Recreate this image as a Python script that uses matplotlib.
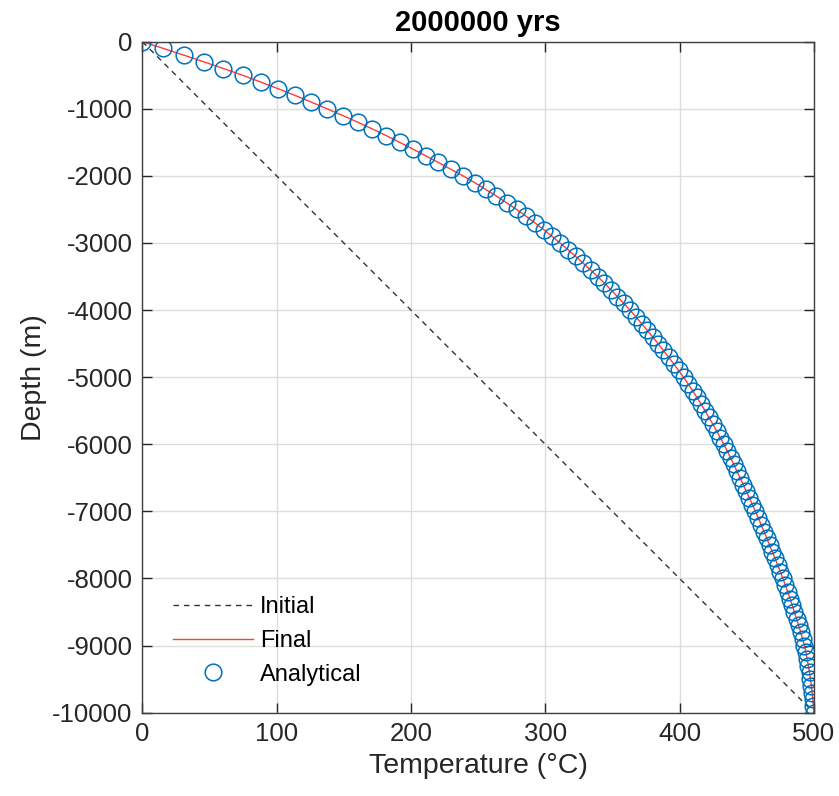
import numpy as np
import matplotlib
matplotlib.use('Agg')
import matplotlib.pyplot as plt

plt.rcParams['font.family'] = ['Liberation Sans', 'DejaVu Sans']
plt.rcParams['axes.unicode_minus'] = False

# depth of the analytical points (m), every 100 m
depth = [0, -100, -200, -300, -400, -500, -600, -700, -800, -900,
         -1000, -1100, -1200, -1300, -1400, -1500, -1600, -1700, -1800, -1900,
         -2000, -2100, -2200, -2300, -2400, -2500, -2600, -2700, -2800, -2900,
         -3000, -3100, -3200, -3300, -3400, -3500, -3600, -3700, -3800, -3900,
         -4000, -4100, -4200, -4300, -4400, -4500, -4600, -4700, -4800, -4900,
         -5000, -5100, -5200, -5300, -5400, -5500, -5600, -5700, -5800, -5900,
         -6000, -6100, -6200, -6300, -6400, -6500, -6600, -6700, -6800, -6900,
         -7000, -7100, -7200, -7300, -7400, -7500, -7600, -7700, -7800, -7900,
         -8000, -8100, -8200, -8300, -8400, -8500, -8600, -8700, -8800, -8900,
         -9000, -9100, -9200, -9300, -9400, -9500, -9600, -9700, -9800, -9900,
         -10000]

# temperature (deg C)
temp = [0.0, 15.6, 30.8, 45.8, 60.4, 74.6, 88.0, 101.0, 113.6, 125.8,
        137.6, 149.2, 160.4, 171.2, 181.6, 191.6, 201.4, 211.0, 220.4, 229.6,
        238.8, 247.4, 255.6, 263.6, 271.2, 278.6, 285.6, 292.3, 298.8, 305.0,
        311.0, 316.9, 322.6, 328.2, 333.7, 339.0, 344.1, 349.0, 353.8, 358.5,
        363.0, 367.4, 371.7, 375.9, 380.0, 384.0, 387.9, 391.8, 395.6, 399.3,
        403.0, 406.4, 409.7, 412.9, 416.0, 419.0, 421.9, 424.8, 427.6, 430.3,
        433.0, 435.5, 438.0, 440.4, 442.7, 445.0, 447.4, 449.7, 452.0, 454.3,
        456.5, 458.7, 460.8, 462.9, 465.0, 467.0, 469.1, 471.1, 473.1, 475.1,
        477.0, 478.8, 480.6, 482.3, 483.9, 485.5, 487.1, 488.7, 490.2, 491.6,
        493.0, 494.1, 495.0, 495.9, 496.8, 497.5, 498.2, 498.7, 499.2, 499.7,
        500.0]

# initial linear profile (end points)
init_depth = [0, -10000]
init_temp = [0, 500]

title = '2000000 yrs'
txt = '#262626'

fig = plt.figure(figsize=(8.39, 7.96), dpi=100)
ax = fig.add_axes([0.1697, 0.1047, 0.8003, 0.8429])

ax.plot(init_temp, init_depth, color='#333333', linestyle=(0, (4, 3.5)), linewidth=1.0, label='Initial')
ax.plot(temp, depth, color='#ff3b3b', linewidth=1.0, label='Final')
ax.plot(temp, depth, linestyle='none', marker='o', markersize=12, markerfacecolor='none',
        markeredgecolor='#0072BD', markeredgewidth=1.1, label='Analytical')

ax.set_xlim(0, 500)
ax.set_ylim(-10000, 0)
ax.set_xticks(np.arange(0, 501, 100))
ax.set_yticks(np.arange(-10000, 1, 1000))
ax.grid(True, color='#dedede', linewidth=1.0)
ax.set_axisbelow(True)
ax.tick_params(direction='in', top=True, right=True, length=7, width=1.0,
               labelsize=18.5, colors=txt, pad=7)
for s in ax.spines.values():
    s.set_color('#404040')
    s.set_linewidth(1.0)

ax.set_xlabel('Temperature (°C)', fontsize=20.5, color=txt, labelpad=5)
ax.set_ylabel('Depth (m)', fontsize=20.5, color=txt, labelpad=4)
ax.set_title(title, fontsize=21, fontweight='bold', color='black', pad=8)

ax.legend(loc='lower left', frameon=False, fontsize=17, handlelength=3.4,
          handletextpad=0.3, labelspacing=0.5, borderaxespad=0.6,
          bbox_to_anchor=(0.01, 0.005))

plt.savefig('out.png', dpi=100)
